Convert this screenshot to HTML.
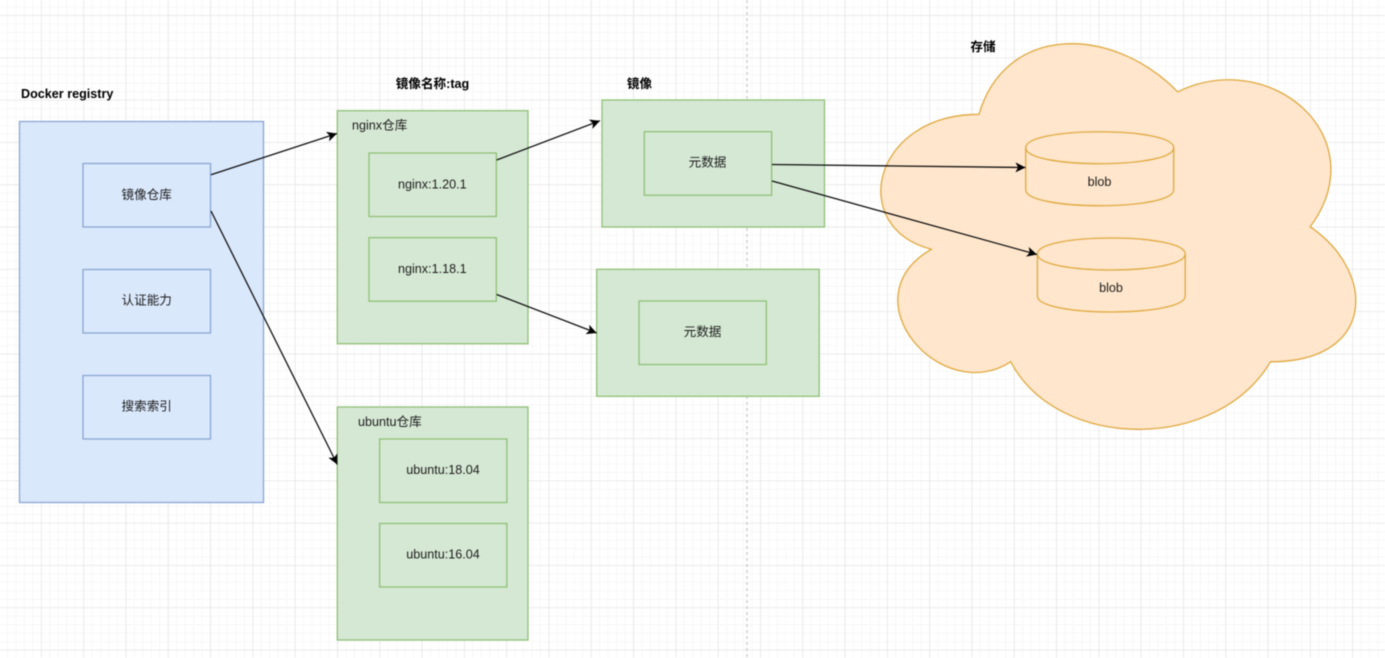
<!DOCTYPE html>
<html><head><meta charset="utf-8"><style>
html,body{margin:0;padding:0;background:#fff;width:1385px;height:658px;overflow:hidden}
svg{display:block;filter:blur(0.55px)}
text{font-family:"Liberation Sans","Noto Sans CJK SC",sans-serif;font-size:12.6px;fill:#1c1c1c;text-anchor:middle}
.b{font-weight:bold;fill:#000}
.l{text-anchor:start}
.bl{fill:#dae8fc;stroke:#8aa6d2;stroke-width:1.3}
.gr{fill:#d5e8d4;stroke:#8fc076;stroke-width:1.3}
.or{fill:#ffe6cc;stroke:#dfa93f;stroke-width:1.3}
.ar{stroke:#111;stroke-width:1.3;fill:none;marker-end:url(#a)}
</style></head><body>
<svg width="1385" height="658" viewBox="0 0 1385 658" xmlns="http://www.w3.org/2000/svg">
<defs>
<pattern id="minor" x="7.2" y="6.85" width="8.46" height="8.46" patternUnits="userSpaceOnUse"><path d="M8.46 0H0V8.46" fill="none" stroke="#f1f1f1" stroke-width="1"/></pattern>
<pattern id="major" x="41" y="15.2" width="42.3" height="42.3" patternUnits="userSpaceOnUse"><path d="M42.3 0H0V42.3" fill="none" stroke="#e2e2e2" stroke-width="1.3"/></pattern>
<marker id="a" markerUnits="userSpaceOnUse" markerWidth="14" markerHeight="12" refX="12" refY="5" orient="auto"><path d="M2 0L12 5L2 10L4.5 5Z" fill="#000"/></marker>
</defs>
<rect width="1385" height="658" fill="#fff"/>
<rect width="1385" height="658" fill="url(#minor)"/>
<rect width="1385" height="658" fill="url(#major)"/>
<line x1="747" y1="0" x2="747" y2="658" stroke="#cfcfcf" stroke-width="1.5" stroke-dasharray="3 3"/>

<rect class="bl" x="19.5" y="121.5" width="244" height="381"/>
<rect class="bl" x="83" y="163.5" width="127.5" height="63.5"/>
<rect class="bl" x="83" y="269.5" width="127.5" height="63.5"/>
<rect class="bl" x="83" y="375.5" width="127.5" height="63.5"/>

<rect class="gr" x="337.3" y="110.7" width="190.7" height="233"/>
<rect class="gr" x="369" y="153" width="127.3" height="63.5"/>
<rect class="gr" x="369" y="237.7" width="127.3" height="63.5"/>
<rect class="gr" x="337.3" y="407" width="190.7" height="233"/>
<rect class="gr" x="379.6" y="439" width="127.3" height="63.5"/>
<rect class="gr" x="379.6" y="523.5" width="127.3" height="63.5"/>
<rect class="gr" x="602" y="100" width="222.5" height="127"/>
<rect class="gr" x="644.3" y="131.7" width="127.3" height="63.5"/>
<rect class="gr" x="596.7" y="269.3" width="222.5" height="127"/>
<rect class="gr" x="639" y="301" width="127.3" height="63.5"/>

<path class="or" d="M978.9 114.3C872.9 114.3 846.4 226.8 931.2 249.3C846.4 298.8 941.8 406.8 1010.7 361.8C1058.4 451.8 1217.4 451.8 1270.4 361.8C1376.4 361.8 1376.4 271.8 1310.2 226.8C1376.4 136.8 1270.4 46.8 1177.7 91.8C1111.4 24.3 1005.4 24.3 978.9 114.3Z"/>
<path class="or" d="M1025.7 147.7C1025.7 126.4 1173.7 126.4 1173.7 147.7V189.7C1173.7 211 1025.7 211 1025.7 189.7Z"/>
<path d="M1025.7 147.7C1025.7 169 1173.7 169 1173.7 147.7" fill="none" stroke="#dfa93f" stroke-width="1.3"/>
<path class="or" d="M1037.4 254C1037.4 232.7 1185.2 232.7 1185.2 254V296C1185.2 317.3 1037.4 317.3 1037.4 296Z"/>
<path d="M1037.4 254C1037.4 275.3 1185.2 275.3 1185.2 254" fill="none" stroke="#dfa93f" stroke-width="1.3"/>

<line class="ar" x1="211" y1="174.7" x2="337" y2="133.5"/>
<line class="ar" x1="211" y1="211" x2="337.3" y2="464.5"/>
<line class="ar" x1="496.7" y1="160" x2="600" y2="120.7"/>
<line class="ar" x1="496.7" y1="294.5" x2="596.7" y2="333"/>
<line class="ar" x1="772" y1="164.5" x2="1025.5" y2="167.5"/>
<line class="ar" x1="772" y1="181" x2="1037" y2="254.5"/>

<text class="b l" x="21" y="98">Docker registry</text>
<text class="b" x="432.5" y="88">镜像名称:tag</text>
<text class="b" x="639.5" y="88">镜像</text>
<text class="b" x="983" y="51">存储</text>
<text x="146.7" y="199">镜像仓库</text>
<text x="146.7" y="304.5">认证能力</text>
<text x="146.7" y="410.5">搜索索引</text>
<text class="l" x="352" y="129.5">nginx仓库</text>
<text x="432.3" y="188.5">nginx:1.20.1</text>
<text x="432.3" y="273">nginx:1.18.1</text>
<text class="l" x="358" y="426">ubuntu仓库</text>
<text x="443" y="474">ubuntu:18.04</text>
<text x="443" y="558.5">ubuntu:16.04</text>
<text x="707.5" y="166.5">元数据</text>
<text x="702.5" y="336">元数据</text>
<text x="1099.5" y="186">blob</text>
<text x="1111" y="292">blob</text>
</svg>
</body></html>
